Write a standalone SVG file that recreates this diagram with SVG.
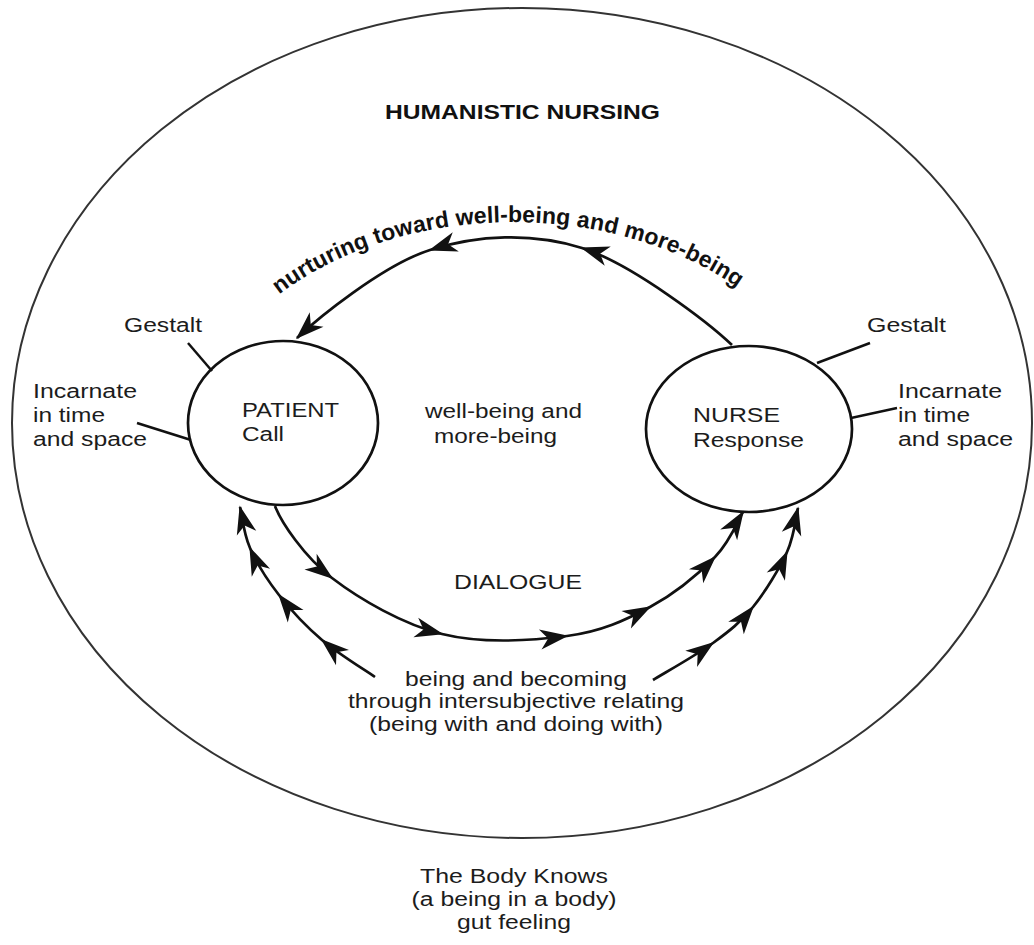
<svg xmlns="http://www.w3.org/2000/svg" width="1034" height="945" viewBox="0 0 1034 945">
<style>
.t{font-family:"Liberation Sans",Arial,sans-serif;font-size:20px;fill:#1c1c1c;}
.b{font-family:"Liberation Sans",Arial,sans-serif;font-weight:bold;fill:#111;}
.c{fill:none;stroke:#111;stroke-width:2.7;}
.ln{fill:none;stroke:#111;stroke-width:2.5;}
.ar{fill:none;stroke:#111;stroke-width:2.7;marker-mid:url(#ah);marker-end:url(#ah);}
</style>
<defs>
<marker id="ah" viewBox="-30 -12 32 24" refX="0" refY="0" markerWidth="32" markerHeight="24" markerUnits="userSpaceOnUse" orient="auto">
<path d="M1.5,0 L-27,-10 L-19,0 L-27,10 Z" fill="#111"/>
</marker>
<path id="arcText" d="M236,336 A320,228 0 0 1 790,336"/>
</defs>
<rect width="1034" height="945" fill="#fff"/>

<g id="outer">
<ellipse cx="522" cy="423" rx="510" ry="415" fill="none" stroke="#333" stroke-width="2"/>
<text class="b" x="385" y="119" font-size="19.5" textLength="275" lengthAdjust="spacingAndGlyphs">HUMANISTIC NURSING</text>
</g>

<g id="patient">
<ellipse class="c" cx="283" cy="423" rx="95" ry="82"/>
<text class="t" x="242" y="417" textLength="97" lengthAdjust="spacingAndGlyphs">PATIENT</text>
<text class="t" x="242" y="441" textLength="42" lengthAdjust="spacingAndGlyphs">Call</text>
</g>

<g id="nurse">
<ellipse class="c" cx="749" cy="429" rx="103" ry="83"/>
<text class="t" x="693" y="422" textLength="87" lengthAdjust="spacingAndGlyphs">NURSE</text>
<text class="t" x="693" y="447" textLength="111" lengthAdjust="spacingAndGlyphs">Response</text>
</g>

<g id="patient-labels">
<text class="t" x="124" y="332" textLength="78" lengthAdjust="spacingAndGlyphs">Gestalt</text>
<text class="t" x="33" y="398" textLength="104" lengthAdjust="spacingAndGlyphs">Incarnate</text>
<text class="t" x="33" y="422" textLength="72" lengthAdjust="spacingAndGlyphs">in time</text>
<text class="t" x="33" y="446" textLength="114" lengthAdjust="spacingAndGlyphs">and space</text>
</g>

<g id="nurse-labels">
<text class="t" x="867" y="332" textLength="79" lengthAdjust="spacingAndGlyphs">Gestalt</text>
<text class="t" x="898" y="398" textLength="104" lengthAdjust="spacingAndGlyphs">Incarnate</text>
<text class="t" x="898" y="422" textLength="72" lengthAdjust="spacingAndGlyphs">in time</text>
<text class="t" x="898" y="446" textLength="115" lengthAdjust="spacingAndGlyphs">and space</text>
</g>

<g id="center-label">
<text class="t" x="425" y="418" textLength="157" lengthAdjust="spacingAndGlyphs">well-being and</text>
<text class="t" x="434" y="443" textLength="123" lengthAdjust="spacingAndGlyphs">more-being</text>
</g>

<g id="dialogue-label">
<text class="t" x="454" y="589" textLength="128" lengthAdjust="spacingAndGlyphs">DIALOGUE</text>
</g>

<g id="relating-label">
<text class="t" x="516" y="686" text-anchor="middle" textLength="222" lengthAdjust="spacingAndGlyphs">being and becoming</text>
<text class="t" x="516" y="708" text-anchor="middle" textLength="336" lengthAdjust="spacingAndGlyphs">through intersubjective relating</text>
<text class="t" x="516" y="731" text-anchor="middle" textLength="294" lengthAdjust="spacingAndGlyphs">(being with and doing with)</text>
</g>

<g id="body-label">
<text class="t" x="514" y="883" text-anchor="middle" textLength="188" lengthAdjust="spacingAndGlyphs">The Body Knows</text>
<text class="t" x="514" y="906" text-anchor="middle" textLength="205" lengthAdjust="spacingAndGlyphs">(a being in a body)</text>
<text class="t" x="514" y="929" text-anchor="middle" textLength="114" lengthAdjust="spacingAndGlyphs">gut feeling</text>
</g>

<g id="nurturing-label">
<text class="b" font-size="23" letter-spacing="0.1"><textPath href="#arcText" startOffset="60">nurturing toward well-being and more-being</textPath></text>
</g>

<g id="connectors">
<line class="ln" x1="188" y1="343" x2="212" y2="371"/>
<line class="ln" x1="137" y1="423" x2="191" y2="440"/>
<line class="ln" x1="817" y1="363" x2="870" y2="343"/>
<line class="ln" x1="851" y1="418" x2="897" y2="408"/>
<path class="ar" d="M732,345 C710,324 632.3,263.8 582,248 C531.7,232.2 477.5,235 430,250 C382.5,265 316,320 297,338"/>
<path class="ar" d="M275,506 C281,522 304.2,556.7 332,578 C359.8,599.3 402.8,624.3 442,634 C481.2,643.7 532.3,640.5 567,636 C601.7,631.5 625.3,620.2 650,607 C674.7,593.8 699.5,572.8 715,557 C730.5,541.2 738.3,519.5 743,512"/>
<path class="ar" d="M375,677 C366.2,670.8 338,653.7 322,640 C306,626.3 291,610.3 279,595 C267,579.7 256.5,562.7 250,548 C243.5,533.3 241.7,513.8 240,507"/>
<path class="ar" d="M653,680 C663,673.8 696.3,655.2 713,643 C729.7,630.8 740.7,622.2 753,607 C765.3,591.8 779.5,568.5 787,552 C794.5,535.5 796.2,515.3 798,508"/>
</g>
</svg>
